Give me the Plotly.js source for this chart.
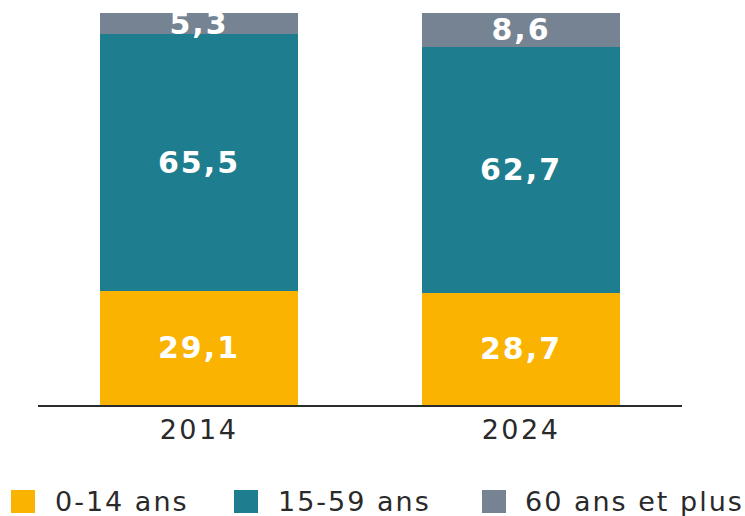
<!DOCTYPE html>
<html>
<head>
<meta charset="utf-8">
<script src="https://cdn.plot.ly/plotly-3.0.1.min.js"></script>
<style>
  html, body { margin: 0; padding: 0; background: #fff; }
  #chart { width: 745px; height: 516px; }
  .bartext { letter-spacing: 2px; }
  .xtick text { letter-spacing: 2.5px; }
  .annotation-text { letter-spacing: 2px; }
</style>
</head>
<body>
<div id="chart"></div>
<script>
const years = ['2014', '2024'];
const seriesNames = ['0-14 ans', '15-59 ans', '60 ans et plus'];
const age0_14 = [29.1, 28.7];
const age15_59 = [65.5, 62.7];
const age60plus = [5.3, 8.6];
const colors = ['#F9B300', '#1E7D8E', '#758393'];

const seriesValues = [age0_14, age15_59, age60plus];
const fmt = v => v.toFixed(1).replace('.', ',');

const traces = seriesValues.map((vals, i) => ({
  type: 'bar',
  name: seriesNames[i],
  x: years,
  y: vals,
  marker: { color: colors[i], line: { width: 0 } },
  text: vals.map(fmt),
  textposition: 'inside',
  insidetextanchor: 'middle',
  textangle: 0,
  constraintext: 'none',
  textfont: { family: 'DejaVu Sans', size: 30, color: '#FFFFFF', weight: 'bold' },
  hoverinfo: 'none',
  showlegend: false
}));

// custom legend (large square swatches)
const legendSwatchX = [[-0.0419, -0.0047], [0.3043, 0.3416], [0.6894, 0.7267]];
const legendTextX = [0.0233, 0.3696, 0.7531];
const shapes = legendSwatchX.map((sx, i) => ({
  type: 'rect', xref: 'paper', yref: 'paper',
  x0: sx[0], x1: sx[1], y0: -0.2755, y1: -0.2168,
  fillcolor: colors[i], line: { width: 0 }
}));
const annotations = seriesNames.map((n, i) => ({
  text: n, xref: 'paper', yref: 'paper',
  x: legendTextX[i], y: -0.2462, xanchor: 'left', yanchor: 'middle',
  showarrow: false,
  font: { family: 'DejaVu Sans', size: 27, color: '#2a2a2a' }
}));

const layout = {
  width: 745, height: 516,
  margin: { l: 38, r: 63, t: 13, b: 111 },
  barmode: 'stack',
  bargap: 0.388,
  paper_bgcolor: '#FFFFFF',
  plot_bgcolor: '#FFFFFF',
  showlegend: false,
  xaxis: {
    type: 'category',
    showline: true, linecolor: '#2b2b2b', linewidth: 2,
    ticks: '', showgrid: false, zeroline: false,
    tickfont: { family: 'DejaVu Sans', size: 27, color: '#2a2a2a' }
  },
  yaxis: {
    range: [0, 100], visible: false, fixedrange: true
  },
  shapes: shapes,
  annotations: annotations
};

Plotly.newPlot('chart', traces, layout, { displayModeBar: false, staticPlot: true });
</script>
</body>
</html>
